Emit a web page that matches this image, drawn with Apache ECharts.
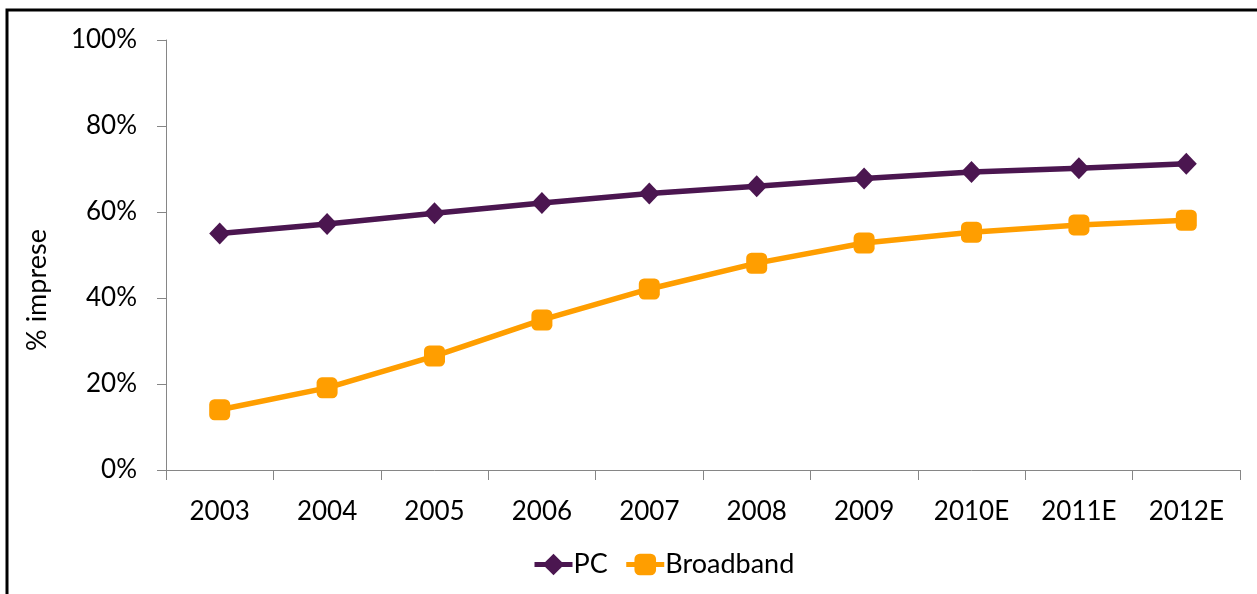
<!DOCTYPE html>
<html>
<head>
<meta charset="utf-8">
<script src="https://cdn.jsdelivr.net/npm/echarts@6/dist/echarts.min.js"></script>
<style>
html,body{margin:0;padding:0;background:#fff;}
#c{width:1257px;height:594px;}
</style>
</head>
<body>
<div id="c"></div>
<script>
const categories = ['2003','2004','2005','2006','2007','2008','2009','2010E','2011E','2012E'];
const pcValues = [55.0, 57.2, 59.7, 62.1, 64.3, 66.0, 67.8, 69.3, 70.2, 71.2];
const broadbandValues = [14.0, 19.1, 26.5, 34.9, 42.1, 48.1, 52.8, 55.3, 57.0, 58.1];
const yTicks = { min: 0, max: 100, interval: 20 };

const FONT = 'Lato, "Open Sans", sans-serif';
const chart = echarts.init(document.getElementById('c'), null, {renderer: 'canvas'});
chart.setOption({
  backgroundColor: '#fff',
  animation: false,
  grid: { left: 166, right: 17, top: 40, bottom: 124, containLabel: false },
  xAxis: {
    type: 'category',
    data: categories,
    boundaryGap: true,
    axisLine: { show: true, lineStyle: { color: '#868686', width: 1 } },
    axisTick: { show: true, length: 10, lineStyle: { color: '#868686' } },
    axisLabel: { color: '#000', fontSize: 26, fontFamily: FONT, margin: 29 },
    splitLine: { show: false }
  },
  yAxis: {
    type: 'value',
    min: yTicks.min, max: yTicks.max, interval: yTicks.interval,
    axisLine: { show: true, lineStyle: { color: '#868686', width: 1 } },
    axisTick: { show: true, length: 9, lineStyle: { color: '#868686' } },
    axisLabel: { color: '#000', fontSize: 26, fontFamily: FONT, margin: 29, formatter: '{value}%' },
    splitLine: { show: false }
  },
  legend: {
    top: 546,
    left: 527,
    itemWidth: 38,
    itemHeight: 27,
    itemGap: 16,
    lineStyle: { width: 5 },
    textStyle: { color: '#000', fontSize: 27, fontFamily: FONT, padding: [0,0,0,-4] },
    data: ['PC', 'Broadband']
  },
  graphic: [
    { type: 'rect', shape: { x: 7, y: 10, width: 1262, height: 600 }, style: { fill: 'none', stroke: '#000', lineWidth: 3 }, silent: true },
    { type: 'text', x: 37, y: 290, rotation: Math.PI / 2,
      style: { text: '% imprese', fontSize: 27, fontFamily: FONT, fill: '#000', align: 'center', verticalAlign: 'middle' } }
  ],
  series: [
    {
      name: 'PC', type: 'line', data: pcValues,
      symbol: 'diamond', symbolSize: [21, 22],
      lineStyle: { color: '#4B1650', width: 5.5 },
      itemStyle: { color: '#4B1650' }
    },
    {
      name: 'Broadband', type: 'line', data: broadbandValues,
      symbol: 'roundRect', symbolSize: 21,
      lineStyle: { color: '#FF9E00', width: 5.5 },
      itemStyle: { color: '#FF9E00' }
    }
  ]
});
</script>
</body>
</html>
